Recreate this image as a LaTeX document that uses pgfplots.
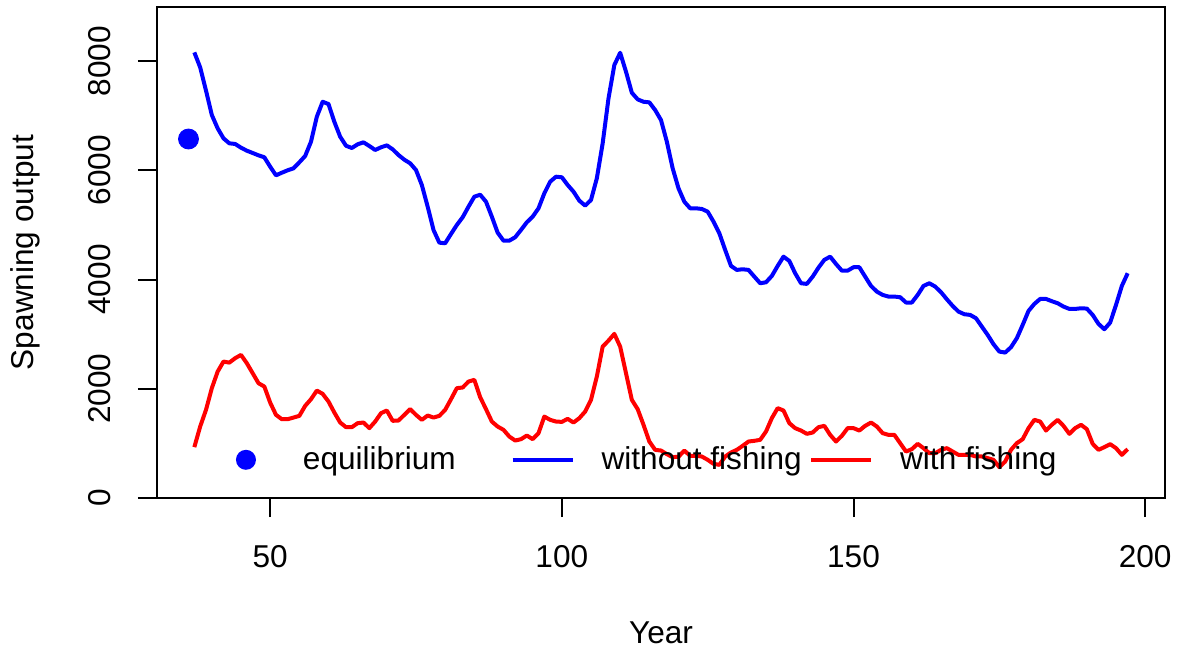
\documentclass[border=0pt]{standalone}
\usepackage{fontspec}
\setmainfont{Liberation Sans}
\usepackage{pgfplots}
\pgfplotsset{compat=1.18}
\usepackage{pgfplotstable}

% spawning output, years 37-197
\pgfplotstableread{
year nofish fish
37 8159 931
38 7885 1308
39 7460 1614
40 7012 2011
41 6768 2315
42 6585 2498
43 6494 2479
44 6482 2560
45 6414 2620
46 6359 2468
47 6317 2285
48 6274 2102
49 6238 2041
50 6066 1747
51 5908 1522
52 5956 1443
53 6000 1443
54 6036 1473
55 6146 1504
56 6262 1687
57 6524 1809
58 6981 1967
59 7255 1907
60 7213 1766
61 6889 1565
62 6615 1382
63 6450 1297
64 6408 1297
65 6476 1370
66 6512 1382
67 6445 1279
68 6372 1400
69 6421 1553
70 6457 1602
71 6384 1413
72 6280 1419
73 6194 1522
74 6128 1627
75 6005 1522
76 5731 1431
77 5334 1510
78 4908 1473
79 4675 1504
80 4664 1614
81 4834 1809
82 4999 2011
83 5140 2023
84 5334 2132
85 5517 2163
86 5553 1846
87 5425 1627
88 5151 1400
89 4858 1308
90 4712 1248
91 4712 1125
92 4774 1052
93 4908 1077
94 5048 1144
95 5151 1077
96 5304 1187
97 5579 1491
98 5792 1431
99 5883 1400
100 5872 1394
101 5731 1449
102 5609 1382
103 5444 1462
104 5353 1583
105 5457 1797
106 5853 2223
107 6494 2772
108 7317 2882
109 7927 3005
110 8152 2772
111 7805 2285
112 7420 1797
113 7299 1627
114 7255 1340
115 7244 1034
116 7103 882
117 6920 869
118 6524 803
119 6036 748
120 5670 755
121 5425 869
122 5304 772
123 5304 772
124 5292 760
125 5243 699
126 5060 626
127 4847 607
128 4542 760
129 4249 833
130 4176 882
131 4188 955
132 4176 1034
133 4053 1047
134 3932 1065
135 3950 1217
136 4066 1462
137 4249 1645
138 4419 1602
139 4340 1370
140 4115 1279
141 3932 1235
142 3920 1175
143 4053 1199
144 4218 1297
145 4360 1321
146 4419 1156
147 4285 1034
148 4163 1138
149 4163 1279
150 4225 1279
151 4225 1235
152 4053 1321
153 3883 1382
154 3779 1309
155 3718 1187
156 3688 1156
157 3688 1156
158 3676 1004
159 3579 851
160 3579 894
161 3718 992
162 3883 913
163 3932 821
164 3871 821
165 3768 882
166 3639 913
167 3517 851
168 3413 790
169 3365 790
170 3352 790
171 3291 760
172 3138 760
173 2986 730
174 2816 699
175 2681 565
176 2663 668
177 2761 882
178 2926 1004
179 3169 1077
180 3425 1279
181 3553 1431
182 3645 1400
183 3645 1235
184 3603 1340
185 3566 1431
186 3505 1321
187 3462 1175
188 3462 1279
189 3474 1340
190 3468 1261
191 3352 992
192 3188 882
193 3090 931
194 3211 986
195 3535 913
196 3883 790
197 4115 894
}\ssb

\begin{document}
\begin{tikzpicture}[font=\fontsize{15.8}{19}\selectfont]
\begin{axis}[
  at={(0pt,0pt)}, anchor=south west,
  scale only axis, width=504pt, height=245.5pt,
  xmin=30.6, xmax=203.4, ymin=0, ymax=8990,
  xtick={50,100,150,200}, ytick={0,2000,4000,6000,8000},
  xtick pos=left, ytick pos=left,
  tick align=outside, major tick length=9.5pt,
  axis line style={line width=1pt},
  tick style={line width=1pt, black},
  /pgf/number format/assume math mode=true,
  /pgf/number format/1000 sep={},
  xticklabel style={anchor=base, yshift=-25pt},
  yticklabel style={xshift=-13.5pt, rotate=90, anchor=base},
  every axis x label/.style={at={(axis description cs:0.5,0)}, yshift=-72.5pt, anchor=base},
  every axis y label/.style={at={(axis description cs:0,0.5)}, xshift=-61.5pt, rotate=90, anchor=base},
  xlabel={Year}, ylabel={Spawning output},
  legend columns=3,
  legend cell align=left,
  legend style={at={(axis description cs:0.0585,0.0778)}, anchor=west,
    draw=none, fill=none, inner sep=0pt, outer sep=0pt, column sep=0pt,
    nodes={inner sep=0pt}},
  /tikz/every odd column/.append style={column sep=13.5pt},
]
\addplot[only marks, mark=*, mark size=5pt, blue,
  legend image code/.code={\path[draw=none, fill=none] (0pt,0pt) rectangle (30pt,0.1pt); \fill[blue, draw=none] (15pt,0pt) circle (5pt);}]
  coordinates {(36,6573)};
\addlegendentry{\makebox[103.8pt][l]{equilibrium}}
\addplot[blue, line width=2pt, line join=round, no markers,
  legend image code/.code={\draw[blue, line width=2pt] (0pt,0pt) -- (30pt,0pt);}]
  table[x=year, y=nofish] {\ssb};
\addlegendentry{\makebox[103.8pt][l]{without fishing}}
\addplot[red, line width=2pt, line join=round, no markers,
  legend image code/.code={\draw[red, line width=2pt] (0pt,0pt) -- (30pt,0pt);}]
  table[x=year, y=fish] {\ssb};
\addlegendentry{\makebox[103.8pt][l]{with fishing}}
\end{axis}
\pgfresetboundingbox
\useasboundingbox (-78.5pt,-76pt) rectangle (510.5pt,249pt);
\end{tikzpicture}
\end{document}
